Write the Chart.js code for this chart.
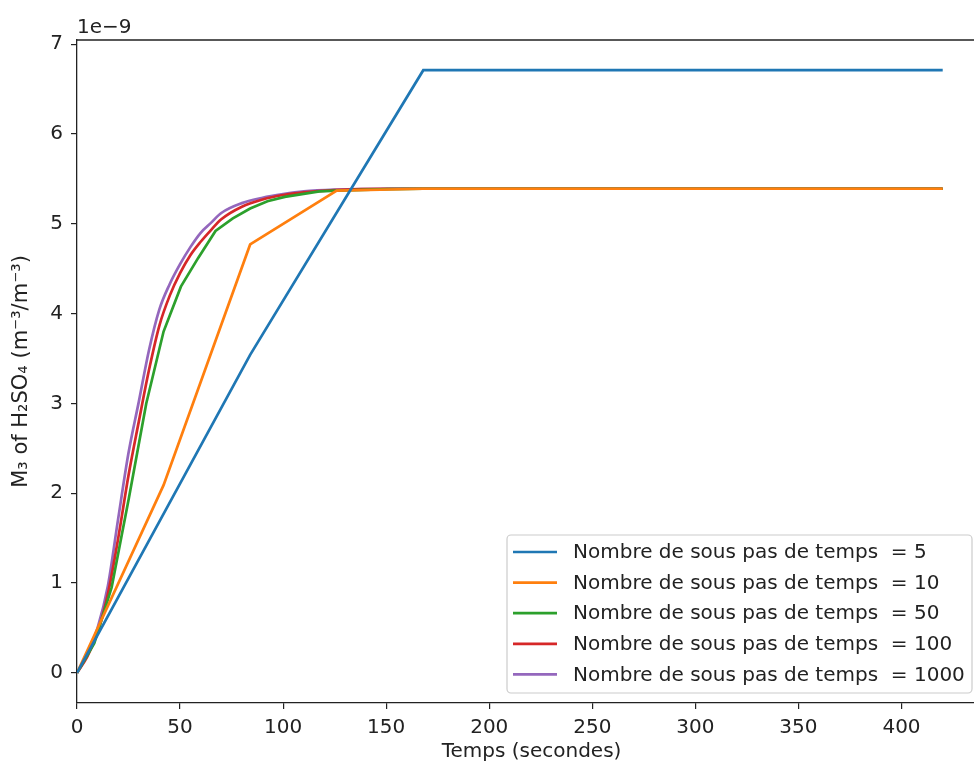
<!DOCTYPE html>
<html>
<head>
<meta charset="utf-8">
<script src="https://cdn.jsdelivr.net/npm/chart.js@4/dist/chart.umd.min.js"></script>
<style>
  html, body { margin: 0; padding: 0; background: #fff; overflow: hidden; width: 974px; height: 764px; }
  #wrap { position: relative; width: 1000px; height: 764px; }
</style>
</head>
<body>
<div id="wrap"><canvas id="myChart" width="1000" height="764"></canvas></div>
<script>
// valeurs en unités de 1e-9
const labels = ['Nombre de sous pas de temps  = 5', 'Nombre de sous pas de temps  = 10',
  'Nombre de sous pas de temps  = 50', 'Nombre de sous pas de temps  = 100',
  'Nombre de sous pas de temps  = 1000'];
const colors = ['#1f77b4', '#ff7f0e', '#2ca02c', '#d62728', '#9467bd'];

const t5 = [0, 84, 168, 252, 336, 420];
const m5 = [0, 3.54, 6.71, 6.71, 6.71, 6.71];

const t10 = [0, 42, 84, 126, 168, 210, 252, 294, 336, 378, 420];
const m10 = [0, 2.09, 4.77, 5.37, 5.39, 5.39, 5.39, 5.39, 5.39, 5.39, 5.39];

const t50 = [0, 8.4, 16.8, 25.2, 33.6, 42, 50.4, 58.8, 67.2, 75.6, 84, 92.4, 100.8, 109.2, 117.6, 126, 151.2, 168, 420];
const m50 = [0, 0.33, 0.95, 1.95, 3.0, 3.8, 4.3, 4.62, 4.92, 5.06, 5.17, 5.25, 5.3, 5.33, 5.36, 5.37, 5.385, 5.39, 5.39];

const t100 = [0, 5, 10, 15, 20, 25, 30, 35, 40, 45, 50, 55, 60, 65, 70, 80, 90, 100, 110, 125, 150, 420];
const m100 = [0, 0.18, 0.45, 0.88, 1.5, 2.2, 2.8, 3.38, 3.87, 4.2, 4.45, 4.65, 4.8, 4.93, 5.05, 5.19, 5.27, 5.32, 5.35, 5.375, 5.39, 5.39];

const t1000 = [0, 5, 10, 15, 20, 25, 30, 35, 40, 45, 50, 55, 60, 65, 70, 80, 90, 100, 110, 125, 150, 420];
const m1000 = [0, 0.2, 0.5, 0.97, 1.72, 2.45, 3.02, 3.6, 4.05, 4.33, 4.55, 4.74, 4.9, 5.01, 5.12, 5.23, 5.29, 5.33, 5.36, 5.38, 5.39, 5.39];

const xTicks = [0, 50, 100, 150, 200, 250, 300, 350, 400];
const yTicks = [0, 1, 2, 3, 4, 5, 6, 7];
const yExposant = '1e\u22129';

const police = 'DejaVu Sans';
const taille = 20;
const series = [[t5, m5], [t10, m10], [t50, m50], [t100, m100], [t1000, m1000]];

const datasets = series.map((s, i) => ({
  label: labels[i],
  data: s[0].map((t, j) => ({ x: t, y: s[1][j] })),
  borderColor: colors[i],
  backgroundColor: colors[i],
  borderWidth: 2.7,
  pointRadius: 0,
  fill: false,
  tension: i >= 3 ? 0.35 : 0,
  cubicInterpolationMode: i >= 3 ? 'monotone' : 'default'
}));

// cadre du haut, texte 1e-9 et légende façon matplotlib
const cadre = {
  id: 'cadre',
  afterDraw(chart) {
    const ctx = chart.ctx;
    const a = chart.chartArea;
    ctx.save();
    ctx.strokeStyle = '#222';
    ctx.lineWidth = 1.3;
    ctx.beginPath();
    ctx.moveTo(a.left, a.top);
    ctx.lineTo(a.right, a.top);
    ctx.lineTo(a.right, a.bottom);
    ctx.stroke();

    ctx.fillStyle = '#222';
    ctx.font = taille + 'px "' + police + '"';
    ctx.textAlign = 'left';
    ctx.textBaseline = 'alphabetic';
    ctx.fillText(yExposant, a.left, a.top - 7);

    // légende
    const bx = 507, by = 535, bw = 465, bh = 158;
    ctx.fillStyle = 'rgba(255,255,255,0.8)';
    ctx.strokeStyle = '#cccccc';
    ctx.lineWidth = 1.2;
    ctx.beginPath();
    ctx.roundRect(bx, by, bw, bh, 4);
    ctx.fill();
    ctx.stroke();
    chart.data.datasets.forEach((ds, i) => {
      const y = by + 17 + i * 30.6;
      ctx.strokeStyle = ds.borderColor;
      ctx.lineWidth = 2.7;
      ctx.beginPath();
      ctx.moveTo(bx + 6, y);
      ctx.lineTo(bx + 50, y);
      ctx.stroke();
      ctx.fillStyle = '#222';
      ctx.textBaseline = 'middle';
      ctx.fillText(ds.label, bx + 66, y + 1);
    });
    ctx.restore();
  }
};

const ctx = document.getElementById('myChart');
const myChart = new Chart(ctx, {
  type: 'line',
  data: { datasets: datasets },
  options: {
    responsive: false,
    animation: false,
    layout: { padding: { top: 40, right: 14, left: 0, bottom: 0 } },
    plugins: { legend: { display: false }, tooltip: { enabled: false } },
    scales: {
      x: {
        type: 'linear',
        min: 0,
        max: 441,
        afterBuildTicks: (scale) => { scale.ticks = xTicks.map(v => ({ value: v })); },
        afterFit: (scale) => { scale.height = 61; },
        grid: { drawOnChartArea: false, drawTicks: true, tickLength: 6, color: '#222', lineWidth: 1.2 },
        border: { display: true, color: '#222', width: 1.3 },
        ticks: { color: '#222', padding: 7, maxRotation: 0, font: { family: police, size: taille } },
        title: { display: true, text: 'Temps (secondes)', color: '#222', padding: { top: 0, bottom: 0 }, font: { family: police, size: taille } }
      },
      y: {
        type: 'linear',
        min: -0.3355,
        max: 7.046,
        afterBuildTicks: (scale) => { scale.ticks = yTicks.map(v => ({ value: v })); },
        afterFit: (scale) => { scale.width = 77; },
        grid: { drawOnChartArea: false, drawTicks: true, tickLength: 6, color: '#222', lineWidth: 1.2 },
        border: { display: true, color: '#222', width: 1.3 },
        ticks: { color: '#222', padding: 8, font: { family: police, size: taille } },
        title: { display: true, text: 'M\u2083 of H\u2082SO\u2084 (m\u207B\u00B3/m\u207B\u00B3)', color: '#222', padding: { top: 9, bottom: 0 }, font: { family: police, size: 21 } }
      }
    }
  },
  plugins: [cadre]
});
</script>
</body>
</html>
